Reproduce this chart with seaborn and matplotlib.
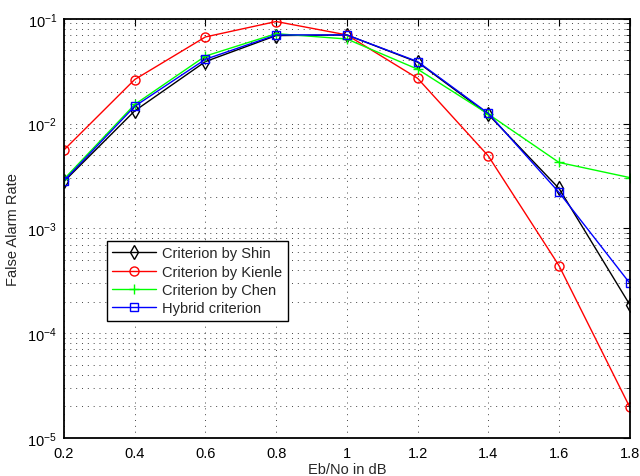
import numpy as np
import pandas as pd
import matplotlib
matplotlib.use("Agg")
import matplotlib.pyplot as plt
from matplotlib.ticker import LogLocator, FixedLocator, NullFormatter
import seaborn as sns

# Eb/No values (dB)
ebno = [0.2, 0.4, 0.6, 0.8, 1.0, 1.2, 1.4, 1.6, 1.8]

# False alarm rate per criterion
shin = [2.8e-3, 1.32e-2, 3.9e-2, 6.9e-2, 7.0e-2, 3.85e-2, 1.22e-2, 2.4e-3, 1.87e-4]
kienle = [5.6e-3, 2.63e-2, 6.7e-2, 9.4e-2, 7.0e-2, 2.7e-2, 4.9e-3, 4.4e-4, 1.97e-5]
chen = [2.95e-3, 1.52e-2, 4.4e-2, 7.2e-2, 6.4e-2, 3.3e-2, 1.23e-2, 4.25e-3, 3.05e-3]
hybrid = [2.85e-3, 1.46e-2, 4.1e-2, 7.0e-2, 7.0e-2, 3.9e-2, 1.25e-2, 2.2e-3, 3.0e-4]

series_names = ["Criterion by Shin", "Criterion by Kienle",
                "Criterion by Chen", "Hybrid criterion"]
series_values = [shin, kienle, chen, hybrid]

colors = ["#000000", "#ff0000", "#00ff00", "#0000ff"]
markers = ["d", "o", "+", "s"]
msizes = [7, 6.5, 7, 5.5]

x_ticks = [0.2, 0.4, 0.6, 0.8, 1.0, 1.2, 1.4, 1.6, 1.8]
x_ticklabels = ["0.2", "0.4", "0.6", "0.8", "1", "1.2", "1.4", "1.6", "1.8"]

df = pd.DataFrame({
    "ebno": np.tile(ebno, len(series_names)),
    "far": np.concatenate(series_values),
    "criterion": np.repeat(series_names, len(ebno)),
})

sns.set_theme(style="white")
plt.rcParams["font.family"] = ["Liberation Sans", "DejaVu Sans"]
plt.rcParams["mathtext.default"] = "regular"

fig = plt.figure(figsize=(6.4, 4.77), dpi=100)
ax = fig.add_axes([0.100, 0.0797, 0.884, 0.879])

for name, c, m, ms in zip(series_names, colors, markers, msizes):
    sub = df[df["criterion"] == name]
    face = c if m == "+" else "none"
    sns.lineplot(data=sub, x="ebno", y="far", ax=ax, color=c, lw=1.0,
                 marker=m, markersize=ms,
                 markerfacecolor=face, markeredgecolor=c, markeredgewidth=1.0,
                 label=name, legend=False)

ax.set_yscale("log")
ax.set_xlim(0.2, 1.8)
ax.set_ylim(1e-5, 1e-1)
ax.xaxis.set_major_locator(FixedLocator(x_ticks))
ax.set_xticklabels(x_ticklabels)
ax.yaxis.set_major_locator(LogLocator(base=10, numticks=10))
ax.yaxis.set_minor_locator(LogLocator(base=10, subs=np.arange(2, 10), numticks=20))
ax.yaxis.set_minor_formatter(NullFormatter())

grid_style = dict(ls=(0, (1, 5)), color="#444444", lw=0.7)
ax.grid(True, which="major", axis="both", **grid_style)
ax.grid(True, which="minor", axis="y", **grid_style)

ax.tick_params(axis="both", which="both", direction="in", top=True, right=True,
               labelsize=10.5, colors="black")
ax.tick_params(which="major", length=5, width=0.8)
ax.tick_params(which="minor", length=3, width=0.6)
ax.tick_params(axis="x", which="major", pad=6)
ax.tick_params(axis="y", which="major", pad=5)
for s in ax.spines.values():
    s.set_color("black")
    s.set_linewidth(1.3)

ax.set_xlabel("Eb/No in dB", fontsize=10.5, labelpad=1)
ax.set_ylabel("False Alarm Rate", fontsize=10.5, labelpad=5)

leg = ax.legend(loc="lower left", bbox_to_anchor=(0.076, 0.28), fontsize=10.5,
                frameon=True, fancybox=False, edgecolor="black", framealpha=1,
                borderpad=0.35, labelspacing=0.3, handlelength=3.0,
                handletextpad=0.45, borderaxespad=0)
leg.get_frame().set_linewidth(1.0)

fig.savefig("out.png", dpi=100)
